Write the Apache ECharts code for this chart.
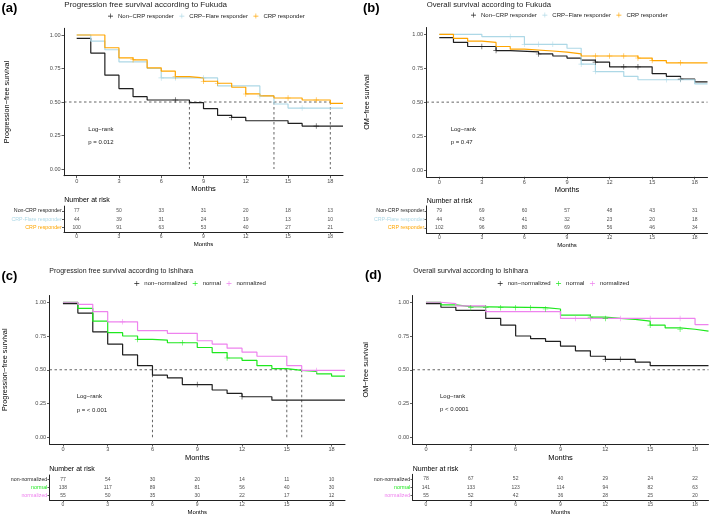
<!DOCTYPE html>
<html><head><meta charset="utf-8">
<script src="https://cdn.jsdelivr.net/npm/echarts@6/dist/echarts.min.js"></script>
<style>html,body{margin:0;padding:0;background:#fff}#c{width:709px;height:516px}</style>
</head><body><div id="c"></div>
<script>
// ---------- data ----------
const monthTicks = [0, 3, 6, 9, 12, 15, 18];
const survTicks = [0, 0.25, 0.5, 0.75, 1];

// (a) PFS according to Fukuda
const aNonT = [0, 1, 2, 3, 4, 5, 8, 9, 10, 11, 12, 15, 16, 18.9];
const aNonS = [0.975, 0.865, 0.70, 0.60, 0.54, 0.515, 0.495, 0.45, 0.40, 0.385, 0.36, 0.34, 0.32, 0.32];
const aNonCens = [7, 11, 17];
const aFlareT = [0, 1, 2, 3, 5, 6, 10, 13, 14, 15, 18.9];
const aFlareS = [1.0, 0.955, 0.89, 0.80, 0.75, 0.68, 0.62, 0.545, 0.485, 0.455, 0.455];
const aFlareCens = [6, 7, 9, 13, 16];
const aCrpT = [0, 2, 3, 4, 5, 6, 7, 8, 9, 10, 11, 12, 13, 14, 16, 18, 18.9];
const aCrpS = [1.0, 0.905, 0.83, 0.815, 0.755, 0.73, 0.69, 0.68, 0.655, 0.64, 0.61, 0.56, 0.545, 0.53, 0.515, 0.49, 0.49];
const aCrpCens = [4, 7, 9, 10, 12, 15, 17];
const aMedians = [8, 14, 18];
const aRiskNon = [77, 50, 33, 31, 20, 18, 13];
const aRiskFlare = [44, 39, 31, 24, 19, 13, 10];
const aRiskCrp = [100, 91, 63, 53, 40, 27, 21];

// (b) OS according to Fukuda
const bNonT = [0, 1, 2, 4, 5, 7, 8, 9, 10, 11, 12, 15, 16, 17, 18, 18.9];
const bNonS = [0.975, 0.94, 0.91, 0.88, 0.87, 0.855, 0.84, 0.825, 0.81, 0.795, 0.76, 0.71, 0.69, 0.67, 0.65, 0.65];
const bNonCens = [3, 4, 7, 11, 13, 14, 17];
const bFlareT = [0, 3, 6, 9, 10, 11, 13, 14, 18, 18.9];
const bFlareS = [1.0, 0.983, 0.926, 0.897, 0.78, 0.725, 0.69, 0.665, 0.635, 0.635];
const bFlareCens = [5, 6, 7, 8, 10, 11, 16, 17];
const bCrpT = [0, 1, 2, 3, 4, 5, 6, 8, 9, 10, 14, 15, 16, 18.9];
const bCrpS = [1.0, 0.97, 0.95, 0.94, 0.91, 0.89, 0.877, 0.868, 0.855, 0.84, 0.825, 0.806, 0.79, 0.79];
const bCrpCens = [11, 12, 13, 14, 15, 17];
const bMedians = [];
const bRiskNon = [79, 69, 60, 57, 48, 43, 31];
const bRiskFlare = [44, 43, 41, 32, 23, 20, 18];
const bRiskCrp = [102, 96, 80, 69, 56, 46, 34];

// (c) PFS according to Ishihara
const cNonT = [0, 1, 2, 3, 4, 5, 6, 7, 8, 10, 11, 12, 14, 18.9];
const cNonS = [0.99, 0.92, 0.78, 0.69, 0.61, 0.53, 0.46, 0.44, 0.39, 0.35, 0.325, 0.30, 0.275, 0.275];
const cNonCens = [9, 12];
const cNormT = [0, 1, 2, 3, 4, 5, 6, 7, 9, 10, 11, 12, 13, 14, 15, 16, 17, 18, 18.9];
const cNormS = [1.0, 0.955, 0.86, 0.775, 0.75, 0.725, 0.72, 0.70, 0.665, 0.627, 0.587, 0.57, 0.53, 0.508, 0.495, 0.488, 0.47, 0.453, 0.453];
const cNormCens = [5, 8, 11];
const cNzT = [0, 1, 2, 3, 5, 7, 9, 10, 11, 12, 13, 15, 16, 18.9];
const cNzS = [1.0, 0.985, 0.93, 0.855, 0.79, 0.77, 0.715, 0.69, 0.66, 0.63, 0.60, 0.53, 0.495, 0.495];
const cNzCens = [4, 17];
const cMedians = [6, 15, 16];
const cRiskNon = [77, 54, 30, 20, 14, 11, 10];
const cRiskNorm = [138, 117, 89, 81, 56, 40, 30];
const cRiskNz = [55, 50, 35, 30, 22, 17, 12];

// (d) OS according to Ishihara
const dNonT = [0, 1, 2, 4, 5, 6, 7, 8, 9, 10, 11, 12, 14, 15, 18.9];
const dNonS = [0.99, 0.963, 0.94, 0.88, 0.83, 0.75, 0.73, 0.71, 0.675, 0.64, 0.60, 0.577, 0.557, 0.53, 0.53];
const dNonCens = [12, 13];
const dNormT = [0, 1, 2, 3, 8, 9, 11, 12, 13, 14, 15, 16, 17, 18, 18.9];
const dNormS = [1.0, 0.98, 0.968, 0.96, 0.95, 0.905, 0.89, 0.88, 0.873, 0.86, 0.83, 0.81, 0.80, 0.786, 0.786];
const dNormCens = [3, 4, 5, 6, 7, 8, 11, 12, 15, 17];
const dNzT = [0, 1, 2, 4, 9, 18, 18.9];
const dNzS = [1.0, 0.99, 0.973, 0.93, 0.88, 0.835, 0.835];
const dNzCens = [10, 11, 13, 15, 17];
const dMedians = [];
const dRiskNon = [78, 67, 52, 40, 29, 24, 22];
const dRiskNorm = [141, 133, 123, 114, 94, 82, 63];
const dRiskNz = [55, 52, 42, 36, 28, 25, 20];

// ---------- styling / layout ----------
const FONT = '"Liberation Sans", Arial, sans-serif';
const BLACK = '#1f1f1f', LBLUE = '#ADD8E6', ORANGE = '#FFA500', GREEN = '#1EE81E', VIOLET = '#EE82EE';
const PLUS = 'path://M4.4,0H5.6V4.4H10V5.6H5.6V10H4.4V5.6H0V4.4H4.4Z';
const XMIN = -0.9, XMAX = 18.9;

const panels = [
  { tag: '(a)', tagPos: [1.5, 8.5], title: 'Progression free survival according to Fukuda', titlePos: [64.3, 4.5], titleSize: 8,
    km: { left: 64, top: 28.3, width: 279, height: 147.4 }, tab: { left: 64, top: 206.1, width: 279, height: 26.1 },
    yName: 'Progression\u2212free survival', yGap: 54, legendPos: [108, 16.7], riskPos: [64.3, 200],
    lr: [88.3, 129.3], p: 'p = 0.012', medians: aMedians,
    curves: [
      { name: 'Non\u2212CRP responder', rl: 'Non-CRP responder', color: BLACK, T: aNonT, S: aNonS, cens: aNonCens, risk: aRiskNon },
      { name: 'CRP\u2212Flare responder', rl: 'CRP-Flare responder', color: LBLUE, T: aFlareT, S: aFlareS, cens: aFlareCens, risk: aRiskFlare },
      { name: 'CRP responder', rl: 'CRP responder', color: ORANGE, T: aCrpT, S: aCrpS, cens: aCrpCens, risk: aRiskCrp }] },
  { tag: '(b)', tagPos: [363, 8.5], title: 'Overall survival according to Fukuda', titlePos: [426.7, 4.5], titleSize: 7.7,
    km: { left: 426.5, top: 27.5, width: 281, height: 149.3 }, tab: { left: 426.5, top: 205.9, width: 281, height: 27.2 },
    yName: 'OM\u2212free survival', yGap: 56, legendPos: [471, 15.7], riskPos: [426.7, 200.7],
    lr: [450.7, 129.3], p: 'p = 0.47', medians: bMedians,
    curves: [
      { name: 'Non\u2212CRP responder', rl: 'Non-CRP responder', color: BLACK, T: bNonT, S: bNonS, cens: bNonCens, risk: bRiskNon },
      { name: 'CRP\u2212Flare responder', rl: 'CRP-Flare responder', color: LBLUE, T: bFlareT, S: bFlareS, cens: bFlareCens, risk: bRiskFlare },
      { name: 'CRP responder', rl: 'CRP responder', color: ORANGE, T: bCrpT, S: bCrpS, cens: bCrpCens, risk: bRiskCrp }] },
  { tag: '(c)', tagPos: [1.5, 276], title: 'Progression free survival according to Ishihara', titlePos: [49.3, 271], titleSize: 7,
    km: { left: 49.5, top: 295.5, width: 295.5, height: 148.5 }, tab: { left: 49.5, top: 475, width: 295.5, height: 26.7 },
    yName: 'Progression\u2212free survival', yGap: 41, legendPos: [134.3, 284], riskPos: [49.3, 469],
    lr: [76.7, 396.7], p: 'p = < 0.001', medians: cMedians,
    curves: [
      { name: 'non\u2212normalized', rl: 'non-normalized', color: BLACK, T: cNonT, S: cNonS, cens: cNonCens, risk: cRiskNon },
      { name: 'normal', rl: 'normal', color: GREEN, T: cNormT, S: cNormS, cens: cNormCens, risk: cRiskNorm },
      { name: 'normalized', rl: 'normalized', color: VIOLET, T: cNzT, S: cNzS, cens: cNzCens, risk: cRiskNz }] },
  { tag: '(d)', tagPos: [365, 275.5], title: 'Overall survival according to Ishihara', titlePos: [413.3, 271], titleSize: 7,
    km: { left: 412.5, top: 295.5, width: 296, height: 148.5 }, tab: { left: 412.5, top: 474.3, width: 296, height: 26.7 },
    yName: 'OM\u2212free survival', yGap: 43, legendPos: [497.7, 284], riskPos: [412.7, 469],
    lr: [440, 396.3], p: 'p < 0.0001', medians: dMedians,
    curves: [
      { name: 'non\u2212normalized', rl: 'non-normalized', color: BLACK, T: dNonT, S: dNonS, cens: dNonCens, risk: dRiskNon },
      { name: 'normal', rl: 'normal', color: GREEN, T: dNormT, S: dNormS, cens: dNormCens, risk: dRiskNorm },
      { name: 'normalized', rl: 'normalized', color: VIOLET, T: dNzT, S: dNzS, cens: dNzCens, risk: dRiskNz }] }
];

function stepAt(T, S, t) { let v = S[0]; for (let i = 0; i < T.length; i++) if (T[i] <= t) v = S[i]; return v; }

const axisLine = { show: true, onZero: false, lineStyle: { color: '#222', width: 1 } };
const option = { animation: false, textStyle: { fontFamily: FONT }, grid: [], xAxis: [], yAxis: [], series: [], legend: [], graphic: [] };

function txt(x, y, text, size, extra) {
  option.graphic.push({ type: 'text', x: x, y: y, silent: true,
    style: Object.assign({ text: text, fontSize: size, fontFamily: FONT, fill: '#111', verticalAlign: 'middle', align: 'left' }, extra || {}) });
}

panels.forEach(p => {
  const gi = option.grid.length;
  option.grid.push(Object.assign({ containLabel: false }, p.km));
  option.grid.push(Object.assign({ containLabel: false }, p.tab));
  // KM axes
  option.xAxis.push({ type: 'value', gridIndex: gi, min: XMIN, max: XMAX, splitLine: { show: false }, axisLine: axisLine,
    axisTick: { show: true, customValues: monthTicks, length: 2.5, lineStyle: { color: '#333', width: 0.8 } },
    axisLabel: { customValues: monthTicks, fontSize: 5.6, color: '#4d4d4d', margin: 2.6, fontFamily: FONT },
    name: 'Months', nameLocation: 'middle', nameGap: 9, nameTextStyle: { fontSize: 7.5, color: '#000', fontFamily: FONT } });
  option.yAxis.push({ type: 'value', gridIndex: gi, min: -0.05, max: 1.05, splitLine: { show: false }, axisLine: axisLine,
    axisTick: { show: true, customValues: survTicks, length: 2.5, lineStyle: { color: '#333', width: 0.8 } },
    axisLabel: { customValues: survTicks, fontSize: 5.6, color: '#4d4d4d', margin: 3.3, fontFamily: FONT, formatter: v => Number(v).toFixed(2) },
    name: p.yName, nameLocation: 'middle', nameGap: p.yGap, nameTextStyle: { fontSize: 7.3, color: '#000', fontFamily: FONT } });
  // table axes
  option.xAxis.push({ type: 'value', gridIndex: gi + 1, min: XMIN, max: XMAX, splitLine: { show: false }, axisLine: axisLine,
    axisTick: { show: true, customValues: monthTicks, length: 2, lineStyle: { color: '#333', width: 0.8 } },
    axisLabel: { customValues: monthTicks, fontSize: 5, color: '#4d4d4d', margin: 2.4, fontFamily: FONT },
    name: 'Months', nameLocation: 'middle', nameGap: 9, nameTextStyle: { fontSize: 6, color: '#000', fontFamily: FONT } });
  const rich = {};
  p.curves.forEach((c, i) => { rich['c' + (i + 1)] = { color: c.color, fontSize: 5.3, fontFamily: FONT }; });
  option.yAxis.push({ type: 'value', gridIndex: gi + 1, min: 0.4, max: 3.6, inverse: true, splitLine: { show: false }, axisLine: axisLine,
    axisTick: { show: true, customValues: [1, 2, 3], length: 2, lineStyle: { color: '#333', width: 0.8 } },
    axisLabel: { customValues: [1, 2, 3], margin: 2.2, rich: rich,
      formatter: v => { const k = Math.round(v); return '{c' + k + '|' + p.curves[k - 1].rl + '}'; } } });

  // curves + censor marks
  p.curves.forEach(c => {
    option.series.push({ type: 'line', name: c.name, xAxisIndex: gi, yAxisIndex: gi, step: 'end', showSymbol: false, symbol: 'none',
      clip: true, data: c.T.map((t, i) => [t, c.S[i]]), lineStyle: { width: 1.2, color: c.color }, itemStyle: { color: c.color }, z: 3 });
    option.series.push({ type: 'scatter', name: c.name + ' (censored)', xAxisIndex: gi, yAxisIndex: gi, symbol: PLUS, symbolSize: 5.5,
      silent: true, data: c.cens.map(t => [t, stepAt(c.T, c.S, t)]), itemStyle: { color: c.color }, z: 4 });
  });
  // median lines
  const dash = { type: [2.5, 2.5], color: '#222', width: 0.7 };
  const hEnd = p.medians.length ? Math.max.apply(null, p.medians) : XMAX;
  option.series.push({ type: 'line', xAxisIndex: gi, yAxisIndex: gi, showSymbol: false, symbol: 'none', silent: true,
    data: [[XMIN, 0.5], [hEnd, 0.5]], lineStyle: dash, z: 2 });
  p.medians.forEach(m => {
    option.series.push({ type: 'line', xAxisIndex: gi, yAxisIndex: gi, showSymbol: false, symbol: 'none', silent: true,
      data: [[m, 0.5], [m, 0]], lineStyle: dash, z: 2 });
  });
  // risk table
  p.curves.forEach((c, ri) => {
    option.series.push({ type: 'scatter', xAxisIndex: gi + 1, yAxisIndex: gi + 1, symbolSize: 1, silent: true,
      itemStyle: { color: 'rgba(0,0,0,0)' }, data: monthTicks.map((t, k) => [t, ri + 1, c.risk[k]]),
      label: { show: true, position: 'inside', formatter: q => String(q.value[2]), fontSize: 5, color: '#222', fontFamily: FONT } });
  });
  // legend
  option.legend.push({ left: p.legendPos[0], top: p.legendPos[1] - 3.6, padding: 0, data: p.curves.map(c => c.name), icon: PLUS,
    itemWidth: 5, itemHeight: 5, itemGap: 5.5, selectedMode: false, textStyle: { fontSize: 6, color: '#222', fontFamily: FONT } });
  // texts
  txt(p.tagPos[0], p.tagPos[1], p.tag, 13, { fontWeight: 'bold', fill: '#000' });
  txt(p.titlePos[0], p.titlePos[1], p.title, p.titleSize, { fill: '#222' });
  txt(p.riskPos[0], p.riskPos[1], 'Number at risk', 7, { fill: '#000' });
  txt(p.lr[0], p.lr[1], 'Log\u2212rank', 6, { fill: '#222' });
  txt(p.lr[0], p.lr[1] + 13.4, p.p, 6, { fill: '#222' });
});

const chart = echarts.init(document.getElementById('c'), null, { renderer: 'canvas' });
chart.setOption(option);
</script>
</body></html>
